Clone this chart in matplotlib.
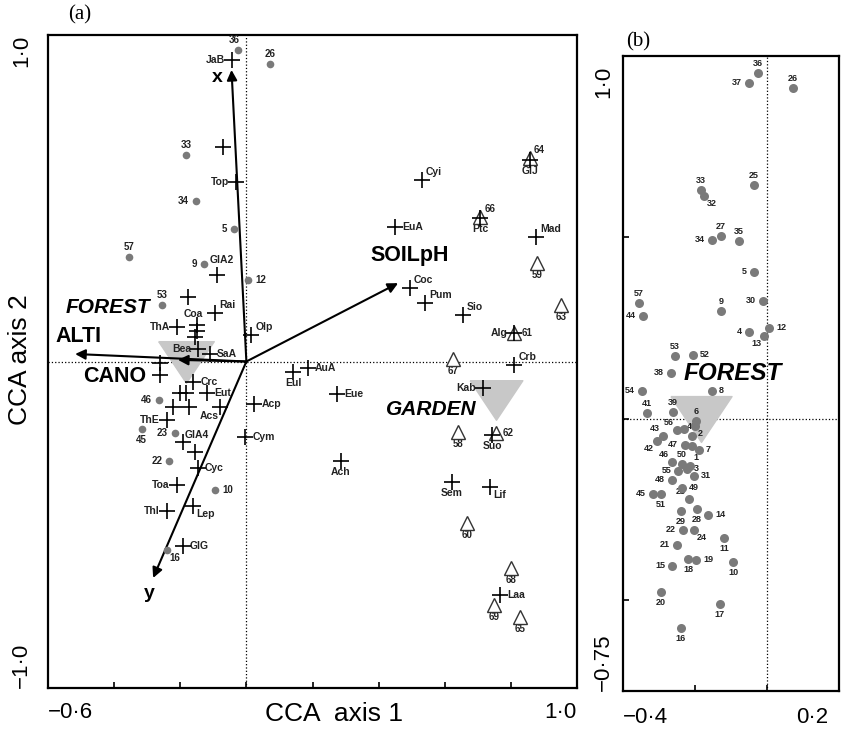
import numpy as np
import matplotlib.pyplot as plt
from matplotlib.path import Path

plt.rcParams['font.family'] = ['Liberation Sans', 'DejaVu Sans']

# forest site scores (CCA axis 1, axis 2); '' = unlabelled point
site_id = ['36', '37', '26', '33', '32', '25', '27', '34', '35', '5', '57', '44', '9', '30',
           '4', '12', '13', '53', '52', '38', '54', '8', '41', '39', '6', '2', '56', '',
           '43', '42', '40', '47', '', '7', '46', '50', '1', '55', '3', '31', '48', '49',
           '45', '51', '23', '29', '28', '14', '22', '24', '11', '21', '18', '19', '15',
           '10', '20', '17', '16']
site_x = [-0.025, -0.050, 0.072, -0.183, -0.175, -0.036, -0.128, -0.153, -0.078, -0.036,
          -0.356, -0.344, -0.128, -0.011, -0.050, 0.006, -0.008, -0.256, -0.206, -0.267,
          -0.347, -0.153, -0.333, -0.261, -0.197, -0.200, -0.250, -0.231, -0.289, -0.306,
          -0.208, -0.228, -0.208, -0.189, -0.264, -0.236, -0.214, -0.247, -0.222, -0.203,
          -0.264, -0.236, -0.317, -0.294, -0.217, -0.239, -0.194, -0.164, -0.233, -0.203,
          -0.119, -0.250, -0.219, -0.197, -0.264, -0.094, -0.294, -0.131, -0.239]
site_y = [0.953, 0.926, 0.912, 0.631, 0.614, 0.645, 0.504, 0.493, 0.490, 0.405,
          0.320, 0.284, 0.298, 0.325, 0.240, 0.251, 0.229, 0.174, 0.176, 0.127,
          0.077, 0.077, 0.017, 0.019, -0.006, -0.019, -0.030, -0.028, -0.047, -0.061,
          -0.047, -0.072, -0.074, -0.085, -0.118, -0.124, -0.129, -0.143, -0.138, -0.157,
          -0.168, -0.190, -0.207, -0.207, -0.220, -0.253, -0.248, -0.264, -0.306, -0.306,
          -0.328, -0.347, -0.386, -0.388, -0.405, -0.394, -0.477, -0.510, -0.576]
sites_in_a = ['36', '26', '33', '34', '5', '57', '9', '12', '53', '46', '45', '23', '22', '10', '16']

# garden sites
garden_id = ['64', '66', '59', '63', '61', '67', '58', '62', '60', '68', '69', '65']
garden_x = [0.858, 0.707, 0.879, 0.952, 0.810, 0.625, 0.640, 0.755, 0.667, 0.800, 0.749, 0.828]
garden_y = [0.623, 0.443, 0.302, 0.173, 0.087, 0.008, -0.216, -0.219, -0.495, -0.632, -0.746, -0.783]

# species scores
sp_name = ['JaB', '', 'Top', 'Cyi', 'EuA', 'GlJ', 'Ptc', 'Mad', 'GlA2', '', 'Rai', 'Coc', 'Pum',
           'Sio', 'Alg', 'Olp', 'ThA', 'Coa', '', '', 'Bea', 'SaA', '', 'Crb', 'AuA', 'Eul', '',
           'Crc', 'Kab', 'Eut', '', '', 'Eue', 'Acp', '', '', 'Acs', 'ThE', 'Suo', 'Cym', 'GlA4',
           '', 'Ach', 'Cyc', 'Sem', 'Toa', 'Lif', 'Lep', 'Thl', 'GlG', 'Laa']
sp_x = [-0.043, -0.071, -0.031, 0.531, 0.450, 0.858, 0.707, 0.876, -0.089, -0.177, -0.095, 0.495,
        0.540, 0.655, 0.810, 0.015, -0.210, -0.149, -0.149, -0.155, -0.146, -0.110, -0.261, 0.810,
        0.186, 0.141, -0.261, -0.161, 0.716, -0.119, -0.201, -0.183, 0.274, 0.024, -0.222, -0.174,
        -0.080, -0.240, 0.743, -0.003, -0.192, -0.155, 0.286, -0.146, 0.622, -0.210, 0.737, -0.161,
        -0.240, -0.192, 0.767]
sp_y = [0.923, 0.657, 0.551, 0.556, 0.412, 0.617, 0.440, 0.381, 0.265, 0.198, 0.148, 0.225,
        0.179, 0.142, 0.087, 0.081, 0.106, 0.111, 0.094, 0.075, 0.038, 0.023, -0.005, -0.011,
        -0.020, -0.032, -0.041, -0.063, -0.081, -0.096, -0.096, -0.096, -0.100, -0.130, -0.139,
        -0.139, -0.139, -0.179, -0.225, -0.231, -0.247, -0.277, -0.305, -0.326, -0.369, -0.378,
        -0.384, -0.443, -0.458, -0.565, -0.715]

# environmental variables (arrow tips)
env_name = ['x', 'y', 'SOILpH', 'ALTI', 'CANO']
env_x = [-0.045, -0.282, 0.459, -0.518, -0.207]
env_y = [0.893, -0.663, 0.240, 0.023, 0.005]

# nominal variable centroids
cent_name = ['FOREST', 'GARDEN']
cent_x = [-0.184, 0.754]
cent_y = [0.0, -0.118]

# label placement (dx, dy in pixels, ha, va)
R = (7, 0, 'left', 'center')
L = (-7, 0, 'right', 'center')
A = (0, 5, 'center', 'bottom')
B = (0, -6, 'center', 'top')
UR = (4, 3, 'left', 'bottom')
UL = (-3, 3, 'right', 'bottom')
LR = (3, -3, 'left', 'top')
LL = (-3, -3, 'right', 'top')

sp_pos = {'JaB': L, 'Top': L, 'Cyi': UR, 'EuA': R, 'GlJ': B, 'Ptc': B, 'Mad': UR,
          'GlA2': (-7, 10, 'left', 'bottom'), 'Rai': UR, 'Coc': UR, 'Pum': UR, 'Sio': UR,
          'Alg': L, 'Olp': UR, 'ThA': L, 'Coa': (-4, 6, 'center', 'bottom'), 'Bea': L,
          'SaA': R, 'Crb': UR, 'AuA': R, 'Eul': B, 'Crc': R, 'Kab': L, 'Eut': R, 'Eue': R,
          'Acp': R, 'Acs': (-1, -4, 'right', 'top'), 'ThE': L, 'Suo': B, 'Cym': R,
          'GlA4': (2, 2, 'left', 'bottom'), 'Ach': B, 'Cyc': R, 'Sem': B, 'Toa': L,
          'Lif': LR, 'Lep': LR, 'Thl': L, 'GlG': R, 'Laa': R}
garden_pos = {'64': UR, '66': UR, '61': R, '62': R}
site_pos_a = {'36': (-4, 5, 'center', 'bottom'), '26': A, '33': A, '34': L, '5': L, '57': A,
              '9': L, '12': R, '53': A, '46': L, '45': B, '23': L, '22': L, '10': R,
              '16': (2, -3, 'left', 'top')}
site_pos_b = {'36': A, '37': L, '26': A, '33': A, '32': LR, '25': A, '27': A, '34': L,
              '35': A, '5': L, '57': A, '44': L, '9': A, '30': L, '4': L, '12': R, '13': LL,
              '53': A, '52': R, '38': L, '54': L, '8': R, '41': A, '39': A, '6': A, '2': LR,
              '56': UL, '43': UL, '42': LL, '40': A, '47': L, '7': R, '46': UL, '50': A,
              '1': (3, 4, 'left', 'bottom'), '55': L, '3': R, '31': R, '48': L, '49': R,
              '45': L, '51': B, '23': UL, '29': B, '28': B, '14': R, '22': L, '24': LR,
              '11': B, '21': L, '18': B, '19': R, '15': L, '10': B, '20': B, '17': B, '16': B}
env_pos = {'x': (-14, -8, 'center', 'center'), 'y': (-4, -16, 'center', 'center'),
           'SOILpH': (12, 28, 'center', 'center'), 'ALTI': (3, 17, 'center', 'center'),
           'CANO': (-63, -17, 'center', 'center')}

grey = '#7a7a7a'
cent_marker = Path([(-1, 0.75), (1, 0.75), (0, -0.75), (-1, 0.75)])


def label(ax, txt, x, y, pos, size):
    dx, dy, ha, va = pos
    ax.annotate(txt, (x, y), xytext=(dx, dy), textcoords='offset pixels',
                ha=ha, va=va, fontsize=size, fontweight='bold', color='#222222')


fig = plt.figure(figsize=(8.45, 7.31), dpi=100)
ax = fig.add_axes([48 / 845, 43 / 731, 529 / 845, 653 / 731])
axb = fig.add_axes([623 / 845, 40 / 731, 216 / 845, 635 / 731])

# ---- panel (a)
ax.axhline(0, color='black', ls=':', lw=0.9, zorder=1)
ax.axvline(0, color='black', ls=':', lw=0.9, zorder=1)

ax.plot(cent_x[0], cent_y[0], marker=cent_marker, ms=40, color='#c8c8c8', ls='none', zorder=1)
ax.plot(cent_x[1], cent_y[1], marker=cent_marker, ms=38, color='#c8c8c8', ls='none', zorder=1)
ax.text(-0.42, 0.165, 'FOREST', fontsize=15, fontweight='bold', style='italic',
        ha='center', va='center')
ax.text(0.56, -0.148, 'GARDEN', fontsize=15, fontweight='bold', style='italic',
        ha='center', va='center')

for name, x, y in zip(env_name, env_x, env_y):
    ax.annotate('', xy=(x, y), xytext=(0, 0),
                arrowprops=dict(arrowstyle='-|>', color='black', lw=1.5,
                                mutation_scale=15, shrinkA=0, shrinkB=0), zorder=3)
    dx, dy, ha, va = env_pos[name]
    ax.annotate(name, (x, y), xytext=(dx, dy), textcoords='offset pixels', ha=ha, va=va,
                fontsize=15.5 if len(name) > 1 else 14, fontweight='bold')

for sid, x, y in zip(site_id, site_x, site_y):
    if sid in sites_in_a:
        ax.plot(x, y, 'o', color=grey, ms=5.5, mec='none', zorder=4)
        label(ax, sid, x, y, site_pos_a[sid], 7)

ax.plot(garden_x, garden_y, '^', mfc='white', mec='#333333', mew=1.0, ms=10,
        ls='none', zorder=4)
for gid, x, y in zip(garden_id, garden_x, garden_y):
    label(ax, gid, x, y, garden_pos.get(gid, (0, -7, 'center', 'top')), 7)

ax.plot(sp_x, sp_y, '+', color='black', ms=12, mew=1.2, ls='none', zorder=5)
for name, x, y in zip(sp_name, sp_x, sp_y):
    if name:
        label(ax, name, x, y, sp_pos[name], 7.5)

ax.set_xlim(-0.6, 1.0)
ax.set_ylim(-1.0, 1.0)
ax.set_xticks([-0.4, -0.2, 0, 0.2, 0.4, 0.6, 0.8])
ax.set_yticks([])
ax.tick_params(axis='x', direction='in', length=4, width=1.2, labelbottom=False)
for s in ax.spines.values():
    s.set_linewidth(1.6)
ax.text(0.0, -0.022, '\u22120\u00b76', transform=ax.transAxes, ha='left', va='top', fontsize=16)
ax.text(1.0, -0.022, '1\u00b70', transform=ax.transAxes, ha='right', va='top', fontsize=16)
ax.text(-0.03, 1.0, '1\u00b70', transform=ax.transAxes, ha='right', va='top',
        rotation=90, fontsize=16)
ax.text(-0.03, 0.0, '\u22121\u00b70', transform=ax.transAxes, ha='right', va='bottom',
        rotation=90, fontsize=16)
ax.text(0.54, -0.022, 'CCA  axis 1', transform=ax.transAxes, ha='center', va='top', fontsize=19)
fig.text(20 / 845, 1 - 360 / 731, 'CCA axis 2', rotation=90, ha='center', va='center', fontsize=19)
fig.text(68 / 845, 1 - 15 / 731, '(a)', family='Liberation Serif', fontsize=15,
         ha='left', va='center')

# ---- panel (b)
axb.axhline(0, color='black', ls=':', lw=0.9, zorder=1)
axb.axvline(0, color='black', ls=':', lw=0.9, zorder=1)
axb.plot(cent_x[0], cent_y[0], marker=cent_marker, ms=44, color='#c8c8c8', ls='none', zorder=1)
axb.text(-0.095, 0.124, 'FOREST', fontsize=17.5, fontweight='bold', style='italic',
         ha='center', va='center')
axb.plot(site_x, site_y, 'o', color=grey, ms=6.5, mec='none', ls='none', zorder=4)
for sid, x, y in zip(site_id, site_x, site_y):
    if sid:
        label(axb, sid, x, y, site_pos_b[sid], 6.5)

axb.set_xlim(-0.4, 0.2)
axb.set_ylim(-0.75, 1.0)
axb.set_xticks([-0.2, 0])
axb.set_yticks([-0.5, 0, 0.5])
axb.tick_params(direction='in', length=4, width=1.2, labelbottom=False, labelleft=False)
for s in axb.spines.values():
    s.set_linewidth(1.6)
axb.text(0.0, -0.025, '\u22120\u00b74', transform=axb.transAxes, ha='left', va='top', fontsize=16)
axb.text(0.95, -0.025, '0\u00b72', transform=axb.transAxes, ha='right', va='top', fontsize=16)
axb.text(-0.04, 0.985, '1\u00b70', transform=axb.transAxes, ha='right', va='top',
         rotation=90, fontsize=16)
axb.text(-0.04, 0.0, '\u22120\u00b775', transform=axb.transAxes, ha='right', va='bottom',
         rotation=90, fontsize=16)
fig.text(626 / 845, 1 - 42 / 731, '(b)', family='Liberation Serif', fontsize=15,
         ha='left', va='center')

fig.savefig('out.png', dpi=100)
